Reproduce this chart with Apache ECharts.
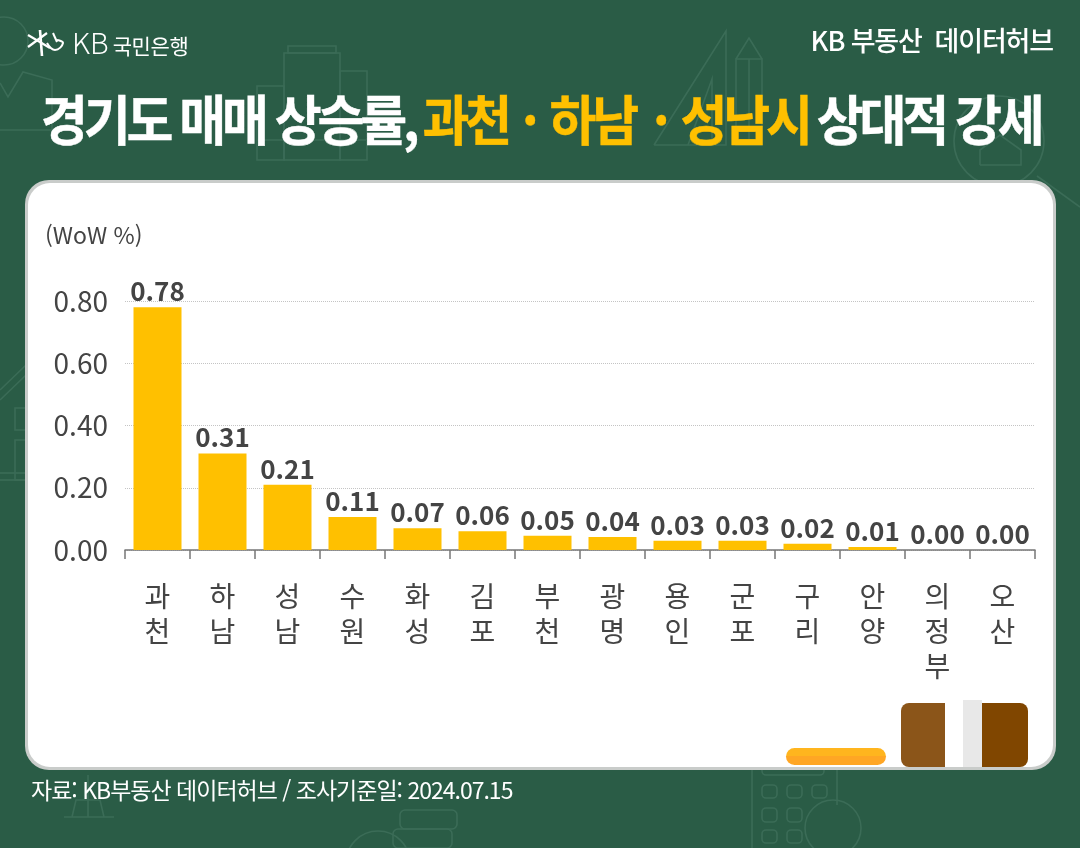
<!DOCTYPE html>
<html lang="ko">
<head>
    <meta charset="UTF-8">
    <title>경기도 매매 상승률</title>
    <script src="https://cdn.jsdelivr.net/npm/echarts@6/dist/echarts.min.js"></script>
    <style>
        html, body { margin: 0; padding: 0; background: #2a5c46; }
        .page { position: relative; width: 1080px; height: 848px; overflow: hidden;
            font-family: "Noto Sans CJK KR", sans-serif; }
        #charts { position: absolute; left: 0; top: 0; width: 1080px; height: 848px; }
        .txt { position: absolute; white-space: nowrap; color: #fff; }
        .brand { left: 72px; top: 24px; font-size: 21px; line-height: 34px; letter-spacing: -0.4px; font-weight: 400; }
        .brand b { font-size: 29px; font-weight: 300; letter-spacing: 0; margin-right: 4px; }
        .hub { right: 27px; top: 21px; font-size: 27px; line-height: 38px; font-weight: 500; letter-spacing: -1.15px; }
        .title { left: 41px; top: 81px; font-size: 51px; line-height: 74px; font-weight: 700; letter-spacing: -4.2px;
            transform: scaleY(1.06); -webkit-text-stroke: 0.4px currentColor; }
        .title span { color: #ffc000; }
        .title i { font-style: normal; margin: 0 5px 0 4px; }
        .title i + i, .title .dot2 { margin-left: 8px; }
        .title u { text-decoration: none; margin-left: -3px; }
        .title em { font-style: normal; margin-left: -2px; }
        .source { left: 31px; top: 773px; font-size: 23px; line-height: 32px; letter-spacing: -1px; }
    </style>
</head>
<body>
<div class="page">
    <div id="charts"></div>
    <div class="txt brand"><b>KB</b>국민은행</div>
    <div class="txt hub">KB 부동산&nbsp; 데이터허브</div>
    <div class="txt title">경기도 매매 상승률, <span><u>과천</u> <i>&#183;</i> 하남 <i class="dot2">&#183;</i> 성남시</span> <em>상대적</em> 강세</div>
    <div class="txt source">자료: KB부동산 데이터허브 / 조사기준일: 2024.07.15</div>
</div>

<script>
    var categories = ['과천','하남','성남','수원','화성','김포','부천','광명','용인','군포','구리','안양','의정부','오산'];
    var values = [0.78,0.31,0.21,0.106,0.07,0.06,0.046,0.042,0.03,0.03,0.02,0.01,0.00,0.00];
    var unitLabel = '(WoW %)';

    var fontName = '"Noto Sans CJK KR", sans-serif';
    var textColor = '#444444';
    var faint = '#3b6c57';
    var myChart = echarts.init(document.getElementById('charts'));

    // faint line drawings behind the card
    function line(points) {
        return { type: 'polyline', z: 1, shape: { points: points }, style: { stroke: faint, lineWidth: 1.6, fill: null } };
    }
    function ring(cx, cy, r) {
        return { type: 'circle', z: 1, shape: { cx: cx, cy: cy, r: r }, style: { stroke: faint, lineWidth: 1.6, fill: null } };
    }
    function box(x, y, w, h, r) {
        return { type: 'rect', z: 1, shape: { x: x, y: y, width: w, height: h, r: r || 0 }, style: { stroke: faint, lineWidth: 1.6, fill: null } };
    }
    var decor = [
        ring(4,41,24),
        line([[0,83],[8,97],[23,72],[52,80],[52,130],[0,130]]),
        box(257,86,27,74), box(284,53,56,107), box(288,46,48,7), box(340,71,27,89),
        line([[257,140],[367,140]]),
        line([[654,145],[726,31],[726,145],[654,145]]),
        line([[688,145],[712,79],[712,145]]),
        box(736,59,26,86), line([[736,59],[749,38],[762,59]]), line([[749,59],[749,145]]),
        ring(999,141,45), line([[1037,176],[1080,207]]),
        line([[980,165],[980,150],[1000,135],[1021,150],[1021,165],[980,165]]),
        line([[0,400],[26,375]]), line([[0,390],[26,365]]),
        box(15,408,14,22), box(15,440,14,40), line([[0,473],[26,473]]), line([[0,480],[26,480]]),
        line([[752,770],[752,848]]), line([[837,770],[837,805]]), box(762,762,62,13,4),
        box(762,785,15,13,4), box(787,785,15,13,4), box(812,785,15,13,4),
        box(762,808,15,14,4), box(787,808,15,14,4),
        box(762,830,15,13,4), box(787,830,15,13,4),
        ring(833,828,28),
        box(400,810,57,19,5), box(393,829,59,19,5), ring(378,863,32),
        line([[64,817],[114,817]]), line([[88,775],[88,817]]), line([[72,817],[76,800],[100,800],[104,817]])
    ];

    // logo mark
    var logo = [
        { type: 'polyline', z: 12, shape: { points: [[28,35],[50,48]] }, style: { stroke: '#fff', lineWidth: 2.2 } },
        { type: 'polyline', z: 12, shape: { points: [[28,47],[47,33]] }, style: { stroke: '#fff', lineWidth: 2.2 } },
        { type: 'polyline', z: 12, shape: { points: [[40,30],[42,56]] }, style: { stroke: '#fff', lineWidth: 2.6 } },
        { type: 'polyline', z: 12, shape: { points: [[47,43],[55,50],[63,43],[57,40]], smooth: 0.5 }, style: { stroke: '#fff', lineWidth: 2, fill: null } },
        { type: 'polyline', z: 12, shape: { points: [[53,33],[57,42]] }, style: { stroke: '#fff', lineWidth: 2 } }
    ];

    // card and the clipped shapes at its bottom right corner
    var card = [
        { type: 'rect', z: 2, shape: { x: 25, y: 180, width: 1031, height: 590, r: 24 }, style: { fill: '#c9ccca' } },
        { type: 'rect', z: 3, shape: { x: 28, y: 183, width: 1025, height: 584, r: 22 }, style: { fill: '#ffffff' } },
        { type: 'rect', z: 4, shape: { x: 786, y: 748, width: 100, height: 17, r: 8.5 }, style: {
            fill: new echarts.graphic.LinearGradient(0, 0, 0, 1, [
                { offset: 0, color: '#ffb51e' }, { offset: 0.5, color: '#ffb51e' },
                { offset: 0.5, color: '#ffa624' }, { offset: 1, color: '#ffa624' }
            ]) } },
        { type: 'rect', z: 4, shape: { x: 901, y: 703, width: 60, height: 64, r: 8 }, style: { fill: '#8b5519' } },
        { type: 'rect', z: 4, shape: { x: 968, y: 703, width: 60, height: 64, r: 8 }, style: { fill: '#804600' } },
        { type: 'rect', z: 5, shape: { x: 945, y: 700, width: 18, height: 67 }, style: { fill: '#ffffff' } },
        { type: 'rect', z: 5, shape: { x: 963, y: 700, width: 19, height: 67 }, style: { fill: '#e8e8e8' } },
        { type: 'text', z: 6, x: 45, y: 224, style: { text: unitLabel, font: '23px ' + fontName, fill: textColor } }
    ];

    var option = {
        animation: false,
        textStyle: { fontFamily: fontName },
        graphic: { elements: decor.concat(logo, card) },
        grid: { left: 125, right: 45, top: 301, height: 249, containLabel: false, z: 10 },
        xAxis: {
            type: 'category',
            data: categories,
            z: 10,
            axisLine: { show: true, lineStyle: { color: '#777777', width: 1.5 } },
            axisTick: { show: true, length: 9, lineStyle: { color: '#777777', width: 1.5 } },
            axisLabel: {
                interval: 0,
                margin: 29,
                fontSize: 28,
                lineHeight: 35,
                color: textColor,
                fontFamily: fontName,
                formatter: function (name) { return name.split('').join('\n'); }
            }
        },
        yAxis: {
            type: 'value',
            min: 0,
            max: 0.8,
            interval: 0.2,
            z: 10,
            axisLine: { show: false },
            axisTick: { show: false },
            splitLine: { show: true, lineStyle: { color: '#c4c4c4', type: 'dotted', width: 1 } },
            axisLabel: {
                margin: 17,
                fontSize: 28,
                color: textColor,
                fontFamily: fontName,
                formatter: function (v) { return v.toFixed(2); }
            }
        },
        series: [
            {
                type: 'bar',
                z: 10,
                data: values,
                barWidth: 48,
                itemStyle: { color: '#ffc000' },
                label: {
                    show: true,
                    position: 'top',
                    distance: 3,
                    fontSize: 26,
                    fontWeight: 700,
                    color: textColor,
                    fontFamily: fontName,
                    formatter: function (p) { return p.value.toFixed(2); }
                }
            }
        ]
    };
    myChart.setOption(option);
</script>
</body>
</html>
